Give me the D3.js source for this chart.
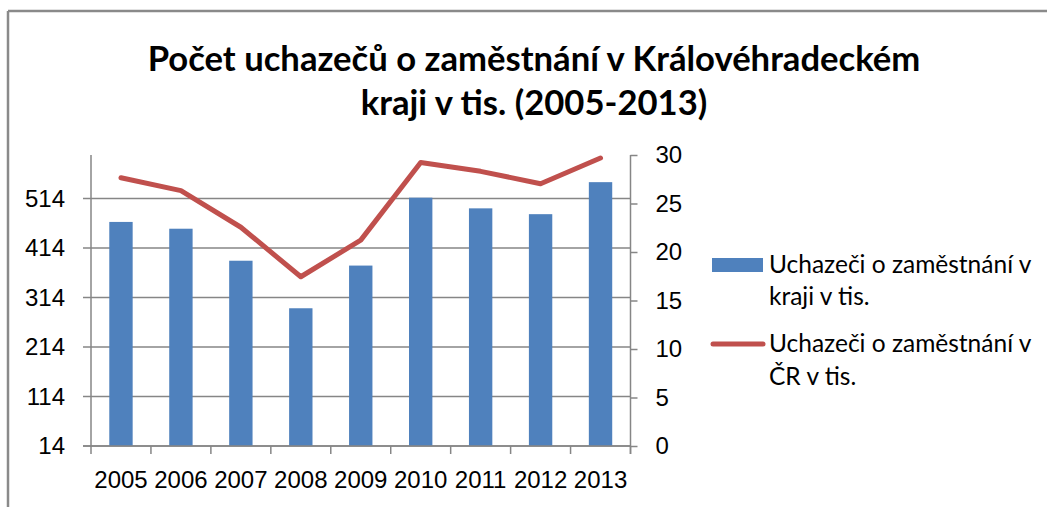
<!DOCTYPE html>
<html lang="cs">
<head>
  <meta charset="utf-8" />
  <title>Počet uchazečů o zaměstnání</title>
  <script src="https://d3js.org/d3.v7.min.js"></script>
  <style>
    body { margin: 0; padding: 0; background: #ffffff; }
    svg { display: block; font-family: Lato, "Open Sans", sans-serif; }
    .axis path, .axis line { stroke: #868686; stroke-width: 1.5; fill: none; }
    .axis text { fill: #000; font-size: 24px; }
    .grid line { stroke: #868686; stroke-width: 1.5; }
  </style>
</head>
<body>
<div id="chart"></div>
<script>
// ---- data ----
const years = ["2005", "2006", "2007", "2008", "2009", "2010", "2011", "2012", "2013"];
// region (bars, right axis, thousands)
const regionValues = [23.1, 22.4, 19.1, 14.2, 18.6, 25.6, 24.5, 23.9, 27.2];
// Czech Republic (line, left axis, thousands)
const czValues = [556, 530, 456, 356, 430, 587, 569, 544, 596];
const leftTicks = [14, 114, 214, 314, 414, 514];
const rightTicks = [0, 5, 10, 15, 20, 25, 30];
const titleLines = ["Počet uchazečů o zaměstnání v Královéhradeckém", "kraji v tis. (2005-2013)"];
const legendLines = [
  ["Uchazeči o zaměstnání v", "kraji v tis."],
  ["Uchazeči o zaměstnání v", "ČR v tis."]
];

// ---- layout ----
const W = 1047, H = 507;
const plot = { left: 91, right: 630.5, top: 155, bottom: 446 };

const svg = d3.select("#chart").append("svg")
  .attr("width", W).attr("height", H);

// chart frame (only top and left edges are visible in the source)
svg.append("line").attr("x1", 8).attr("x2", W).attr("y1", 11).attr("y2", 11)
  .attr("stroke", "#8a8a8a").attr("stroke-width", 2.5);
svg.append("line").attr("x1", 8).attr("x2", 8).attr("y1", 11).attr("y2", H)
  .attr("stroke", "#8a8a8a").attr("stroke-width", 2.5);

// ---- scales ----
const x = d3.scaleBand().domain(years).range([plot.left, plot.right]).padding(0);
const yL = d3.scaleLinear().domain([14, 602]).range([plot.bottom, plot.top]);
const yR = d3.scaleLinear().domain([0, 30]).range([plot.bottom, plot.top]);
const barW = x.bandwidth() * 0.39;

// ---- gridlines (left axis) ----
svg.append("g").attr("class", "grid")
  .selectAll("line").data(leftTicks).enter().append("line")
  .attr("x1", plot.left - 8).attr("x2", plot.right)
  .attr("y1", d => yL(d)).attr("y2", d => yL(d));

// ---- bars ----
svg.append("g").selectAll("rect").data(years).enter().append("rect")
  .attr("x", (d) => x(d) + (x.bandwidth() - barW) / 2)
  .attr("y", (d, i) => yR(regionValues[i]))
  .attr("width", barW)
  .attr("height", (d, i) => plot.bottom - yR(regionValues[i]))
  .attr("fill", "#4F81BD");

// ---- left axis ----
const gL = svg.append("g").attr("class", "axis")
  .attr("transform", `translate(${plot.left},0)`)
  .call(d3.axisLeft(yL).tickValues(leftTicks).tickSize(0).tickPadding(26).tickFormat(d3.format("d")));
gL.select(".domain").attr("d", `M0,${plot.top}V${plot.bottom}`);

// ---- right axis ----
const gR = svg.append("g").attr("class", "axis")
  .attr("transform", `translate(${plot.right},0)`)
  .call(d3.axisRight(yR).tickValues(rightTicks).tickSize(7).tickPadding(18));
gR.select(".domain").attr("d", `M0,${plot.top}V${plot.bottom + 8}`);

// ---- bottom axis ----
const gX = svg.append("g").attr("class", "axis")
  .attr("transform", `translate(0,${plot.bottom})`)
  .call(d3.axisBottom(x).tickSize(0).tickPadding(42));
gX.select(".domain").attr("d", `M${plot.left - 8},0H${plot.right}`);
gX.selectAll(".tick text").attr("dy", "0");
// category boundary ticks
const bounds = years.map(d => x(d)).concat([plot.right]);
gX.selectAll(".bound").data(bounds).enter().append("line")
  .attr("class", "bound")
  .attr("x1", d => d).attr("x2", d => d).attr("y1", 0).attr("y2", 8);

// ---- line ----
const line = d3.line()
  .x((d, i) => x(years[i]) + x.bandwidth() / 2)
  .y(d => yL(d));
svg.append("path").datum(czValues)
  .attr("d", line)
  .attr("fill", "none")
  .attr("stroke", "#C0504D")
  .attr("stroke-width", 5)
  .attr("stroke-linecap", "round")
  .attr("stroke-linejoin", "round");

// ---- title ----
const title = svg.append("text")
  .attr("text-anchor", "middle")
  .attr("font-weight", "bold")
  .attr("font-size", 34)
  .attr("fill", "#000");
title.append("tspan").attr("x", 534).attr("y", 71).text(titleLines[0]);
title.append("tspan").attr("x", 534).attr("y", 115).text(titleLines[1]);
// fit first line to the width it takes in the source (~773px)
const t1 = title.select("tspan").node().getComputedTextLength();
title.attr("font-size", 34 * 773 / t1);

// ---- legend ----
const lg = svg.append("g").attr("font-size", 24.5);
lg.append("rect").attr("x", 712).attr("y", 258).attr("width", 51).attr("height", 14)
  .attr("fill", "#4F81BD");
lg.append("line").attr("x1", 713).attr("x2", 763).attr("y1", 344).attr("y2", 344)
  .attr("stroke", "#C0504D").attr("stroke-width", 5).attr("stroke-linecap", "round");
const rowY = [[273, 305], [352, 385]];
legendLines.forEach((rows, s) => {
  lg.selectAll(null).data(rows).enter().append("text")
    .attr("x", 769).attr("y", (d, i) => rowY[s][i]).attr("fill", "#000")
    .text(d => d);
});
</script>
</body>
</html>
